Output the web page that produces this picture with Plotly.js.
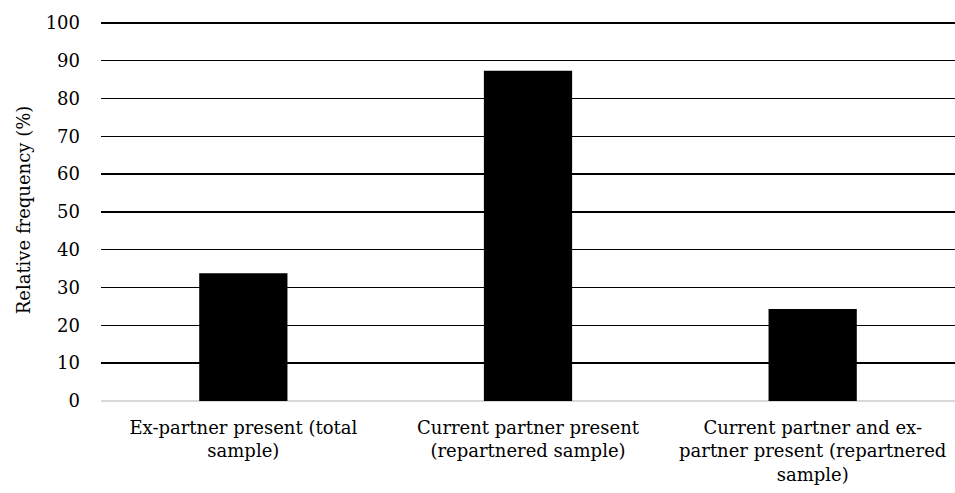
<!DOCTYPE html>
<html>
<head>
<meta charset="utf-8">
<script src="https://cdn.plot.ly/plotly-3.0.1.min.js"></script>
<style>html,body{margin:0;padding:0;background:#fff;}#chart{width:955px;height:493px;}</style>
</head>
<body>
<div id="chart"></div>
<script>
const categories = [
  "Ex-partner present (total<br>sample)",
  "Current partner present<br>(repartnered sample)",
  "Current partner and ex-<br>partner present (repartnered<br>sample)"
];
const values = [33.8, 87.3, 24.3];
const yTicks = [0, 10, 20, 30, 40, 50, 60, 70, 80, 90, 100];

const fontFam = "'DejaVu Serif', 'Liberation Serif', serif";
Plotly.newPlot("chart", [{
  type: "bar",
  x: categories,
  y: values,
  marker: {color: "#000000", line: {width: 0}},
  hoverinfo: "none"
}], {
  width: 955, height: 493,
  margin: {l: 101, r: 0, t: 19, b: 92},
  paper_bgcolor: "#fff", plot_bgcolor: "#fff",
  bargap: 0.69,
  font: {family: fontFam, size: 18, color: "#000"},
  showlegend: false,
  xaxis: {
    type: "category",
    showgrid: false, showline: false, zeroline: false,
    tickfont: {family: fontFam, size: 18, color: "#000"},
    ticks: "", ticklabelstandoff: 14, automargin: false
  },
  yaxis: {
    range: [0, 101],
    tickvals: yTicks,
    ticktext: yTicks.map(String),
    showgrid: true, gridcolor: "#000", gridwidth: 1.5,
    zeroline: true, zerolinecolor: "#d9d9d9", zerolinewidth: 1.5,
    showline: false, ticks: "",
    ticklabelstandoff: 20,
    tickfont: {family: fontFam, size: 18, color: "#000"},
    title: {text: "Relative frequency (%)", font: {family: fontFam, size: 18, color: "#000"}, standoff: 10},
    automargin: false
  }
}, {staticPlot: true});
</script>
</body>
</html>
